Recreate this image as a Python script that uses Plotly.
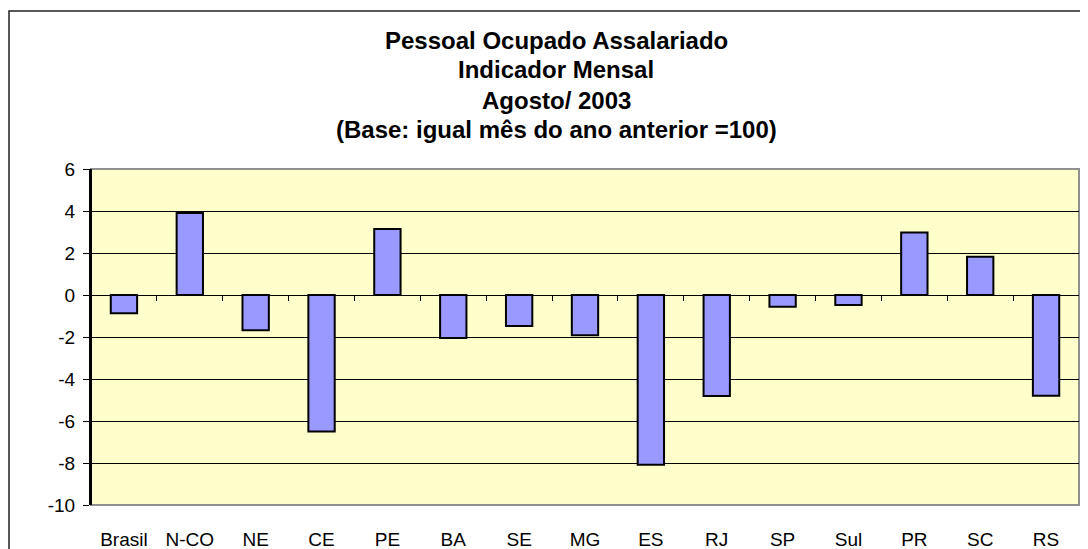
import plotly.graph_objects as go

regioes = ["Brasil", "N-CO", "NE", "CE", "PE", "BA", "SE", "MG",
           "ES", "RJ", "SP", "Sul", "PR", "SC", "RS"]
variacao = [-0.87, 3.9, -1.68, -6.5, 3.14, -2.05, -1.48, -1.92,
            -8.08, -4.81, -0.56, -0.48, 2.98, 1.82, -4.8]
y_ticks = [6, 4, 2, 0, -2, -4, -6, -8, -10]
y_labels = [str(v) for v in y_ticks]  # plain hyphen like the original

titulo = ["Pessoal Ocupado Assalariado", "Indicador Mensal",
          "Agosto/ 2003", "(Base: igual mês do ano anterior =100)"]

# page body has an 8px margin, so the figure is sized/placed to compensate
W, H = 1080, 541
L, R, T, B = 83, 9, 161, 44
pw, ph = W - L - R, H - T - B

fig = go.Figure()
fig.add_trace(go.Bar(
    x=regioes, y=variacao, width=0.4,
    marker=dict(color="#9999FF", line=dict(color="black", width=2)),
))
# invisible trace to carry the zero-line axis with boundary ticks
fig.add_trace(go.Scatter(x=regioes, y=[0] * len(regioes), xaxis="x2",
                         mode="markers", marker=dict(opacity=0),
                         hoverinfo="skip", showlegend=False))

font = dict(family="Liberation Sans, Arial, sans-serif", color="black")

fig.update_layout(
    width=W, height=H,
    margin=dict(l=L, r=R, t=T, b=B, autoexpand=False),
    paper_bgcolor="white", plot_bgcolor="#FFFFCC",
    showlegend=False, bargap=0.6,
    font=dict(size=19, **font),
    xaxis=dict(range=[-0.5, 14.5], showgrid=False, showline=False,
               ticks="", tickfont=dict(size=19), ticklabelstandoff=21,
               automargin=False),
    xaxis2=dict(overlaying="x", anchor="free", position=10 / 16,
                range=[-0.5, 14.5], matches="x", showline=True,
                linecolor="black", linewidth=1, ticks="outside",
                ticklen=5, tickcolor="black", tickwidth=1,
                tickmode="array", tickvals=[i + 0.5 for i in range(14)],
                showticklabels=False, showgrid=False, side="bottom",
                automargin=False),
    yaxis=dict(range=[-10, 6], tickvals=y_ticks, ticktext=y_labels,
               showgrid=True, gridcolor="black", gridwidth=1, zeroline=False,
               showline=True, linecolor="black", linewidth=2,
               ticks="outside", ticklen=6, tickcolor="black",
               tickfont=dict(size=19), ticklabelstandoff=4,
               automargin=False),
)

# plot area border (grey) and outer chart frame
fig.add_shape(type="rect", xref="paper", yref="paper", x0=0, x1=1, y0=0, y1=1,
              line=dict(color="#909090", width=2), layer="below")
fig.add_shape(type="line", xref="paper", yref="paper", x0=0, x1=0, y0=0, y1=1,
              line=dict(color="black", width=2))
fig.add_shape(type="rect", xref="paper", yref="paper",
              x0=(1 - L) / pw, x1=1.2, y0=-0.5, y1=(H - B - 3) / ph,
              line=dict(color="#222222", width=1.5))

title_x = (548 - L) / pw
for i, linha in enumerate(titulo):
    fig.add_annotation(text="<b>%s</b>" % linha, xref="paper", yref="paper",
                       x=title_x, y=(H - B - (32 + 30 * i)) / ph,
                       showarrow=False, font=dict(size=24, **font),
                       xanchor="center", yanchor="middle")

fig.write_html("out.html")
